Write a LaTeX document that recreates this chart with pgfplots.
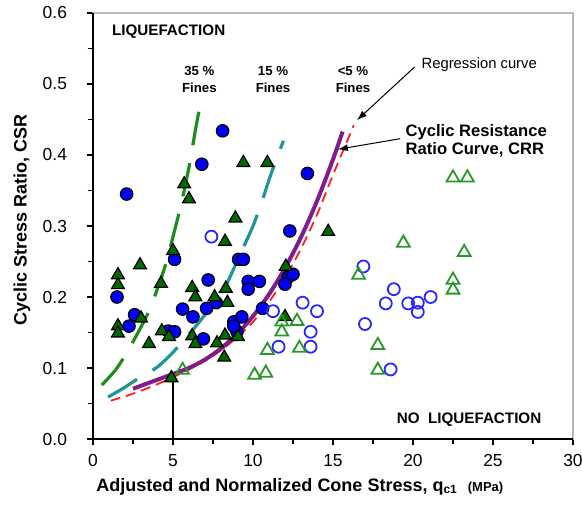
\documentclass[border=0pt]{standalone}
\usepackage{fontspec}
\setmainfont{Liberation Sans}
\usepackage{pgfplots}
\pgfplotsset{compat=1.18}
\usetikzlibrary{arrows.meta}
\definecolor{fblue}{RGB}{0,0,250}
\definecolor{oblue}{RGB}{40,40,255}
\definecolor{fgreen}{RGB}{0,105,0}
\definecolor{ogreen}{RGB}{40,150,40}
\definecolor{crrpurple}{RGB}{128,28,140}
\definecolor{regred}{RGB}{255,30,30}
\definecolor{ggreen}{RGB}{30,140,30}
\definecolor{teal15}{RGB}{30,150,150}
\begin{document}
\begin{tikzpicture}
\path[use as bounding box] (-46.5pt,-38.5pt) rectangle (244.5pt,219.5pt);
\begin{axis}[
  at={(0pt,0pt)}, anchor=south west,
  scale only axis, width=240pt, height=213pt,
  xmin=0, xmax=30, ymin=0, ymax=0.6,
  xtick={0,5,10,15,20,25,30}, minor x tick num=1,
  ytick={0,0.1,0.2,0.3,0.4,0.5,0.6}, minor y tick num=1,
  xtick pos=bottom, ytick pos=left,
  tick align=outside, major tick length=3pt, minor tick length=2.5pt,
  every tick/.style={black, line width=0.6pt},
  axis line style={gray!55, line width=1pt},
  scaled y ticks=false,
  /pgf/number format/assume math mode=true,
  y tick label style={/pgf/number format/.cd, fixed, fixed zerofill, precision=1, /tikz/.cd, font=\fontsize{8.7}{10}\selectfont, xshift=-6.5pt},
  x tick label style={font=\fontsize{8.7}{10}\selectfont, yshift=-1pt},
  xlabel={\bfseries Adjusted and Normalized Cone Stress, q\textsubscript{c1}\ \ {\fontsize{6.5}{7}\selectfont (MPa)}},
  xlabel style={at={(axis description cs:0.431,-0.113)}, anchor=center, font=\fontsize{9}{10}\selectfont},
  ylabel={\bfseries Cyclic Stress Ratio, CSR},
  ylabel style={at={(axis description cs:-0.148,0.514)}, anchor=center, font=\fontsize{9}{10}\selectfont},
  clip=false,
]
% 35% fines curve
\addplot[ggreen, line width=1.6pt, dash pattern=on 17pt off 9pt, smooth] coordinates {
(0.55,0.076)(1.5,0.100)(2.5,0.137)(3.5,0.180)(4.0,0.210)(4.5,0.243)(5.0,0.285)(5.5,0.330)(6.0,0.383)(6.4,0.435)(6.75,0.477)};
% 15% fines curve
\addplot[teal15, line width=1.6pt, dash pattern=on 17pt off 9pt, smooth] coordinates {
(0.94,0.059)(2.0,0.073)(2.94,0.087)(4.0,0.101)(5.0,0.122)(5.56,0.137)(6.4,0.158)(7.5,0.190)(8.25,0.214)(9.0,0.250)(9.4,0.270)(10.0,0.300)(10.6,0.337)(11.06,0.369)(11.9,0.420)};
% regression curve
\addplot[regred, line width=0.9pt, dash pattern=on 5pt off 3pt, smooth] coordinates {
(1.1,0.054)(2,0.060)(3,0.068)(4,0.077)(5,0.087)(6,0.098)(7,0.110)(8,0.125)(9,0.143)(10,0.165)(11,0.193)(12,0.227)(13,0.268)(14,0.316)(15,0.372)(16.3,0.442)};
% CRR curve
\addplot[crrpurple, line width=2pt, smooth] coordinates {
(2.5,0.0708)(3,0.075)(4,0.0833)(5,0.0916)(6,0.1001)(7,0.1119)(8,0.1276)(9,0.1478)(10,0.173)(11,0.2038)(12,0.2407)(13,0.2843)(14,0.3352)(15,0.3939)(15.6,0.433)};
% vertical line at 5
\addplot[black, line width=0.7pt] coordinates {(5,0)(5,0.086)};
% filled circles
\addplot[only marks, mark=*, mark size=3.1pt, mark options={fill=fblue, draw=black, line width=0.6pt}] coordinates {
(2.1,0.345)(8.1,0.434)(6.8,0.387)(13.4,0.374)(1.5,0.200)(5.1,0.253)(9.1,0.253)(9.4,0.253)
(12.3,0.293)(12.2,0.228)(12.0,0.218)(12.5,0.232)(7.2,0.224)(9.7,0.222)(10.4,0.222)(9.7,0.211)
(7.7,0.192)(10.6,0.184)(5.6,0.183)(6.25,0.172)(7.1,0.184)(2.25,0.159)(2.6,0.175)(4.7,0.152)
(5.1,0.151)(6.9,0.141)(8.8,0.165)(9.3,0.172)(9.0,0.151)(8.8,0.159)};
% filled triangles
\addplot[only marks, mark=triangle*, mark size=3.7pt, mark options={fill=fgreen, draw=black, line width=0.6pt}] coordinates {
(5.7,0.359)(6.0,0.338)(9.4,0.389)(10.9,0.389)(1.56,0.231)(1.56,0.217)(2.94,0.245)(4.25,0.219)
(5.0,0.265)(6.2,0.213)(6.4,0.200)(7.6,0.200)(8.25,0.278)(8.9,0.311)(8.3,0.212)(8.4,0.192)
(12.05,0.243)(14.7,0.292)(1.56,0.159)(1.56,0.149)(3.0,0.170)(3.5,0.134)(4.3,0.152)(4.75,0.144)
(6.2,0.145)(6.4,0.134)(7.75,0.135)(8.25,0.146)(9.06,0.144)(8.2,0.115)(4.9,0.086)(12.0,0.172)};
% open circles
\addplot[only marks, mark=o, mark size=3pt, mark options={draw=oblue, line width=0.9pt}] coordinates {
(7.4,0.285)(11.25,0.180)(13.1,0.192)(14.0,0.180)(13.6,0.151)(13.6,0.130)(11.6,0.130)(16.9,0.243)
(18.8,0.211)(18.3,0.191)(19.7,0.191)(20.3,0.192)(20.3,0.179)(21.1,0.200)(17.0,0.162)(18.6,0.098)};
% open triangles
\addplot[only marks, mark=triangle, mark size=3.7pt, mark options={draw=ogreen, line width=0.9pt}] coordinates {
(5.6,0.097)(11.8,0.165)(11.8,0.151)(12.75,0.166)(10.9,0.125)(12.9,0.128)(10.1,0.090)(10.8,0.093)
(22.5,0.368)(23.4,0.368)(19.4,0.276)(23.2,0.263)(16.6,0.231)(22.5,0.224)(22.5,0.210)(17.8,0.132)(17.8,0.097)};
% black left/bottom axis lines
\draw[black, line width=1.1pt] (rel axis cs:0,1) -- (rel axis cs:0,0) -- (rel axis cs:1,0);
% annotations
\node[anchor=west, font=\fontsize{7.6}{9}\selectfont\bfseries] at (axis cs:0.75,0.573) {LIQUEFACTION};
\node[anchor=west, font=\fontsize{7.6}{9}\selectfont\bfseries] at (axis cs:18.55,0.027) {NO\ \ LIQUEFACTION};
\node[align=center, font=\fontsize{6.6}{8.5}\selectfont\bfseries] at (axis cs:6.65,0.506) {35 \%\\Fines};
\node[align=center, font=\fontsize{6.6}{8.5}\selectfont\bfseries] at (axis cs:11.25,0.506) {15 \%\\Fines};
\node[align=center, font=\fontsize{6.6}{8.5}\selectfont\bfseries] at (axis cs:16.25,0.506) {<5 \%\\Fines};
\node[anchor=west, font=\fontsize{7.4}{9}\selectfont] at (axis cs:20.1,0.527) {Regression curve};
\node[anchor=west, align=left, font=\fontsize{8.3}{9}\selectfont\bfseries] at (axis cs:19.1,0.420) {Cyclic Resistance\\Ratio Curve, CRR};
\draw[-{Latex[length=5pt,width=3.5pt]}, black, line width=0.5pt] (axis cs:20.1,0.524) -- (axis cs:16.5,0.449);
\draw[-{Latex[length=5pt,width=3.5pt]}, black, line width=0.5pt] (axis cs:19.2,0.423) -- (axis cs:15.3,0.408);
\end{axis}
\end{tikzpicture}
\end{document}
